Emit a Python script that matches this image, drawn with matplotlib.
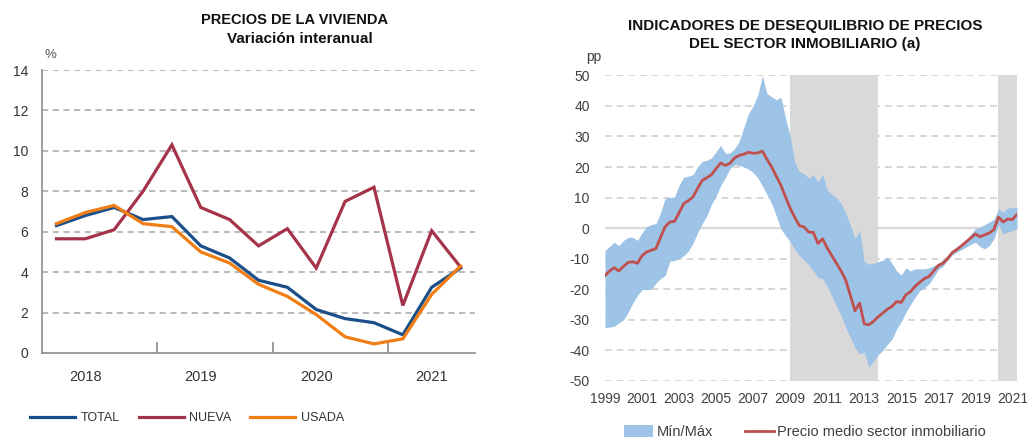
import matplotlib
matplotlib.use("Agg")
import matplotlib.pyplot as plt
import numpy as np
from matplotlib.lines import Line2D
from matplotlib.patches import Patch

plt.rcParams['font.family'] = ['Liberation Sans', 'DejaVu Sans']
plt.rcParams['axes.unicode_minus'] = False

# ---------------- Left chart data (quarterly 2018Q1 - 2021Q3) ----------------
years_left = ["2018", "2019", "2020", "2021"]
total = [6.3, 6.8, 7.2, 6.6, 6.75, 5.3, 4.7, 3.6, 3.25, 2.15, 1.7, 1.5, 0.9, 3.25, 4.2]
nueva = [5.65, 5.65, 6.1, 8.0, 10.3, 7.2, 6.6, 5.3, 6.15, 4.2, 7.5, 8.2, 2.35, 6.05, 4.25]
usada = [6.4, 6.95, 7.3, 6.4, 6.25, 5.0, 4.45, 3.4, 2.8, 1.9, 0.8, 0.45, 0.7, 2.9, 4.3]
legend_left = ["TOTAL", "NUEVA", "USADA"]

# ---------------- Right chart data (quarterly 1999Q1 - 2021Q2) ----------------
precio_medio = [
    -15.5, -14.0, -12.9, -14.0, -12.5, -11.2, -11.0, -11.5,
    -9.0, -7.8, -7.2, -6.7, -3.0, 0.5, 2.0, 2.2,
    5.0, 8.0, 9.0, 10.2, 13.0, 15.6, 16.5, 17.5,
    19.5, 21.3, 20.5, 21.2, 23.0, 23.8, 24.2, 24.8,
    24.5, 24.6, 25.2, 22.5, 20.0, 17.0, 14.0, 10.2,
    6.5, 3.5, 0.8, 0.4, -1.3, -1.4, -5.0, -3.5,
    -6.5, -9.0, -11.5, -14.0, -17.0, -22.0, -27.0, -24.5,
    -31.3, -31.6, -30.5, -29.0, -27.8, -26.5, -25.6, -24.0,
    -24.3, -21.8, -20.8, -19.0, -17.7, -16.5, -15.8, -14.0,
    -12.2, -11.5, -10.0, -8.0, -7.0, -5.8, -4.5, -3.2,
    -1.9, -2.8, -2.2, -1.6, -0.5, 3.6, 2.0, 3.0,
    2.8, 4.5]
maximo = [
    -7.3, -6.0, -4.6, -5.7, -4.0, -3.0, -3.0, -4.0,
    -1.5, 0.5, 1.2, 1.5, 5.0, 9.8, 10.0, 10.2,
    14.0, 16.7, 17.0, 17.5, 20.0, 21.9, 22.2, 23.0,
    25.0, 27.1, 24.5, 24.6, 26.0, 28.5, 33.0, 37.5,
    40.0, 43.5, 49.8, 44.0, 43.0, 42.0, 42.8, 36.0,
    30.0, 21.5, 18.5, 17.8, 16.3, 17.5, 15.1, 17.6,
    12.5, 11.0, 10.0, 8.0, 4.8, 1.0, -3.5, -0.8,
    -11.0, -11.8, -11.5, -11.0, -10.5, -9.5, -11.5, -14.0,
    -15.3, -13.0, -14.0, -13.3, -13.3, -13.3, -13.0, -12.3,
    -11.5, -10.3, -8.8, -7.2, -6.0, -5.0, -4.0, -2.0,
    -0.2, 0.3, 1.1, 2.0, 2.8, 6.3, 5.2, 6.6,
    6.7, 6.9]
minimo = [
    -32.5, -32.4, -32.1, -31.0, -30.0, -27.5, -24.5, -22.0,
    -20.1, -20.1, -20.0, -18.0, -16.5, -15.5, -10.8, -10.6,
    -10.0, -9.0, -7.5, -5.0, -1.5, 1.5, 4.0, 7.8,
    10.5, 14.0, 16.5, 19.5, 20.8, 20.5, 20.0, 19.3,
    18.2, 16.5, 13.8, 11.0, 8.0, 4.0, -0.2, -2.5,
    -4.3, -7.0, -9.0, -10.5, -12.0, -14.0, -16.1, -16.5,
    -19.0, -22.3, -25.5, -28.5, -32.5, -35.8, -39.0, -41.2,
    -40.5, -45.6, -43.5, -41.5, -40.0, -38.0, -36.3, -33.0,
    -30.5, -27.5, -25.0, -22.6, -20.5, -19.5, -18.2, -16.0,
    -13.5, -12.5, -10.5, -8.8, -7.8, -7.0, -6.2, -5.3,
    -4.6, -6.0, -6.8, -5.7, -3.5, 1.1, -1.9, -1.2,
    -0.8, -0.2]
recesiones = [(2009.0, 2013.75), (2020.25, 2021.25)]
legend_right = ["Mín/Máx", "Precio medio sector inmobiliario"]

# colours
C_TOTAL = "#1b4f8a"
C_NUEVA = "#a5344a"
C_USADA = "#f07e14"
C_BAND = "#9dc3e6"
C_RED = "#c0504d"
C_SHADE = "#d9d9d9"
TXT = "#333333"

fig = plt.figure(figsize=(10.27, 4.41), dpi=100)

# ================= LEFT =================
axL = fig.add_axes([42/1027, 1-353/441, (475-42)/1027, (353-70)/441])
x = np.arange(len(total))
axL.plot(x, total, color=C_TOTAL, lw=2.3, zorder=3, solid_joinstyle='miter')
axL.plot(x, nueva, color=C_NUEVA, lw=2.3, zorder=3, solid_joinstyle='miter')
axL.plot(x, usada, color=C_USADA, lw=2.3, zorder=4, solid_joinstyle='miter')
axL.set_xlim(-0.5, 14.5)
axL.set_ylim(0, 14)
axL.set_yticks(np.arange(0, 15, 2))
for v in np.arange(2, 15, 2):
    axL.axhline(v, color="#a6a6a6", lw=1.1, ls=(0, (4, 3)), zorder=1)
for s in ["top", "right"]:
    axL.spines[s].set_visible(False)
for s in ["left", "bottom"]:
    axL.spines[s].set_color("#8c8c8c")
    axL.spines[s].set_linewidth(1.2)
axL.set_xticks([1, 5, 9, 13])
axL.set_xticklabels(years_left)
axL.set_xticks([3.5, 7.5, 11.5], minor=True)
axL.tick_params(axis='x', which='major', length=0, pad=12, labelsize=10.5, labelcolor=TXT)
axL.tick_params(axis='x', which='minor', direction='in', length=8, color="#8c8c8c", width=1.2)
axL.tick_params(axis='y', length=0, pad=10, labelsize=10, labelcolor=TXT)
fig.text(295/1027, 1-20/441, "PRECIOS DE LA VIVIENDA", ha='center', va='center',
         fontsize=10.5, fontweight='bold', color="#111111")
fig.text(300/1027, 1-39/441, "Variación interanual", ha='center', va='center',
         fontsize=11, fontweight='bold', color="#111111")
fig.text(50/1027, 1-55/441, "%", ha='center', va='center', fontsize=9.5, color="#555555")

hL = [Line2D([], [], color=c, lw=2.3) for c in (C_TOTAL, C_NUEVA, C_USADA)]
fig.legend(hL, legend_left, loc='center', bbox_to_anchor=(187/1027, 1-418/441), ncol=3,
           frameon=False, handlelength=3.6, handletextpad=0.45, columnspacing=1.5,
           prop={'size': 9}, labelcolor=TXT)

# ================= RIGHT =================
axR = fig.add_axes([605/1027, 1-381/441, (1017-605)/1027, (381-75.3)/441])
t = 1999 + np.arange(len(precio_medio)) / 4.0
axR.set_xlim(1999, 2021.25)
axR.set_ylim(-50, 50)
for v in range(-50, 51, 10):
    if v == 0:
        continue
    axR.axhline(v, color="#d0d0d0", lw=1.2, ls=(0, (4, 3)), zorder=0.5)
for a, b in recesiones:
    axR.axvspan(a, b, color=C_SHADE, lw=0, zorder=1)
axR.axhline(0, color="#d9d9d9", lw=1.6, zorder=1.5)
axR.fill_between(t, minimo, maximo, color=C_BAND, lw=0, zorder=2)
axR.plot(t, precio_medio, color=C_RED, lw=2.0, zorder=3)
for s in axR.spines.values():
    s.set_visible(False)
axR.set_yticks(range(-50, 51, 10))
axR.set_xticks(range(1999, 2022, 2))
axR.tick_params(axis='both', length=0, labelsize=10, labelcolor="#404040")
axR.tick_params(axis='y', pad=11)
axR.tick_params(axis='x', pad=8)
fig.text(805/1027, 1-26/441, "INDICADORES DE DESEQUILIBRIO DE PRECIOS", ha='center', va='center',
         fontsize=11, fontweight='bold', color="#111111")
fig.text(805/1027, 1-44/441, "DEL SECTOR INMOBILIARIO (a)", ha='center', va='center',
         fontsize=11, fontweight='bold', color="#111111")
fig.text(594/1027, 1-57/441, "pp", ha='center', va='center', fontsize=10, color="#404040")

hR = [Patch(facecolor=C_BAND, edgecolor='none'), Line2D([], [], color=C_RED, lw=2.0)]
fig.legend(hR, legend_right, loc='center', bbox_to_anchor=(805/1027, 1-432/441), ncol=2,
           frameon=False, handlelength=2.0, handleheight=0.8, handletextpad=0.2, columnspacing=2.2,
           prop={'size': 10.5}, labelcolor="#404040")

fig.savefig("out.png", dpi=100)
